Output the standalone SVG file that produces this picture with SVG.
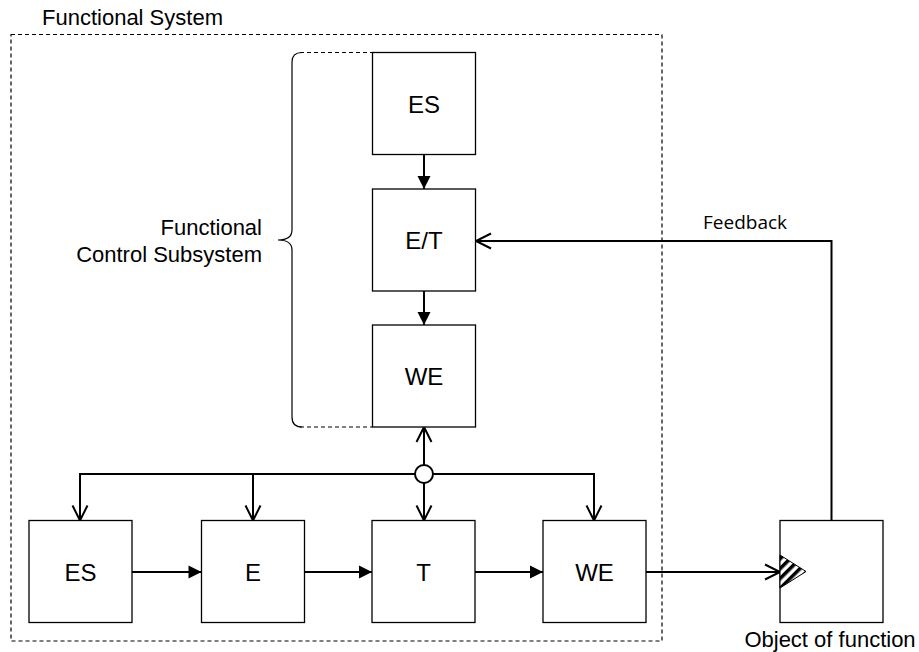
<svg xmlns="http://www.w3.org/2000/svg" width="919" height="652" viewBox="0 0 919 652">
  <style>
    .box { fill: #fff; stroke: #000; stroke-width: 1.3; }
    .lbl { font-family: "Liberation Sans", Arial, sans-serif; font-size: 24px; fill: #000; text-anchor: middle; }
    .txt { font-family: "Liberation Sans", Arial, sans-serif; font-size: 22px; fill: #000; }
    .fb { font-family: "Open Sans", "Liberation Sans", sans-serif; font-size: 19px; fill: #000; }
    .dash { fill: none; stroke: #000; stroke-width: 1.2; stroke-dasharray: 4 3; }
    .wire { fill: none; stroke: #000; stroke-width: 2; }
    .brace { fill: none; stroke: #000; stroke-width: 1.2; }
  </style>
  <defs>
    <marker id="solid" markerUnits="userSpaceOnUse" markerWidth="14" markerHeight="14" refX="13" refY="6.5" orient="auto" overflow="visible">
      <path d="M0,0 L13,6.5 L0,13 Z" fill="#000"/>
    </marker>
    <marker id="open" markerUnits="userSpaceOnUse" markerWidth="16" markerHeight="16" refX="15" refY="7.5" orient="auto" overflow="visible">
      <path d="M0,0 L15,7.5 L0,15" fill="none" stroke="#000" stroke-width="2"/>
    </marker>
    <pattern id="hatch" patternUnits="userSpaceOnUse" width="7" height="7" patternTransform="rotate(45)">
      <rect width="7" height="7" fill="#fff"/>
      <rect width="3.5" height="7" fill="#000"/>
    </pattern>
  </defs>

  <!-- system boundary -->
  <g id="functional-system">
    <rect class="dash" x="11" y="34.5" width="651" height="606.5"/>
    <text class="txt" x="42" y="25">Functional System</text>
  </g>

  <!-- control subsystem brace -->
  <g id="control-subsystem">
    <line class="dash" x1="300" y1="52.5" x2="372.5" y2="52.5"/>
    <line class="dash" x1="300" y1="427" x2="372.5" y2="427"/>
    <path class="brace" d="M302,52.5 Q292,52.5 292,62 V230 Q292,240 278,240 Q292,240 292,250 V417 Q292,427 302,427"/>
    <text class="txt" text-anchor="end" x="262" y="235">Functional</text>
    <text class="txt" text-anchor="end" x="262" y="262">Control Subsystem</text>
  </g>

  <!-- connectors -->
  <g id="connectors">
    <line class="wire" x1="424" y1="154.5" x2="424" y2="189" marker-end="url(#solid)"/>
    <line class="wire" x1="424" y1="291" x2="424" y2="325" marker-end="url(#solid)"/>
    <line class="wire" x1="424" y1="474" x2="424" y2="427" marker-end="url(#open)"/>
    <line class="wire" x1="424" y1="474" x2="424" y2="520.5" marker-end="url(#open)"/>
    <path class="wire" d="M424,474 H80 V520.5" marker-end="url(#open)"/>
    <path class="wire" d="M253,474 V520.5" marker-end="url(#open)"/>
    <path class="wire" d="M424,474 H594 V520.5" marker-end="url(#open)"/>
    <line class="wire" x1="131.5" y1="572" x2="201.5" y2="572" marker-end="url(#solid)"/>
    <line class="wire" x1="304.5" y1="572" x2="372" y2="572" marker-end="url(#solid)"/>
    <line class="wire" x1="474.5" y1="572" x2="543" y2="572" marker-end="url(#solid)"/>
    <line class="wire" x1="645.5" y1="572" x2="780" y2="572" marker-end="url(#open)"/>
    <path class="wire" d="M831.5,520.5 V241 H476" marker-end="url(#open)"/>
    <circle cx="424" cy="474" r="9" fill="#fff" stroke="#000" stroke-width="2"/>
    <text class="fb" x="703" y="229">Feedback</text>
  </g>

  <!-- control chain -->
  <g id="ctrl-es">
    <rect class="box" x="372.5" y="52.5" width="103" height="102"/>
    <text class="lbl" x="424" y="112.5">ES</text>
  </g>
  <g id="ctrl-et">
    <rect class="box" x="372.5" y="189" width="103" height="102"/>
    <text class="lbl" x="424" y="249">E/T</text>
  </g>
  <g id="ctrl-we">
    <rect class="box" x="372.5" y="325" width="103" height="102"/>
    <text class="lbl" x="424" y="385">WE</text>
  </g>

  <!-- working chain -->
  <g id="work-es">
    <rect class="box" x="29" y="520.5" width="103" height="102"/>
    <text class="lbl" x="80.5" y="580.5">ES</text>
  </g>
  <g id="work-e">
    <rect class="box" x="201.5" y="520.5" width="103" height="102"/>
    <text class="lbl" x="253" y="580.5">E</text>
  </g>
  <g id="work-t">
    <rect class="box" x="372" y="520.5" width="103" height="102"/>
    <text class="lbl" x="423.5" y="580.5">T</text>
  </g>
  <g id="work-we">
    <rect class="box" x="543" y="520.5" width="103" height="102"/>
    <text class="lbl" x="594.5" y="580.5">WE</text>
  </g>

  <!-- object acted upon -->
  <g id="object">
    <rect class="box" x="780" y="520.5" width="103" height="102"/>
    <polygon points="780,555 806,571.5 780,588" fill="url(#hatch)" stroke="#000" stroke-width="1"/>
    <text class="txt" text-anchor="middle" x="830" y="647">Object of function</text>
  </g>
</svg>
